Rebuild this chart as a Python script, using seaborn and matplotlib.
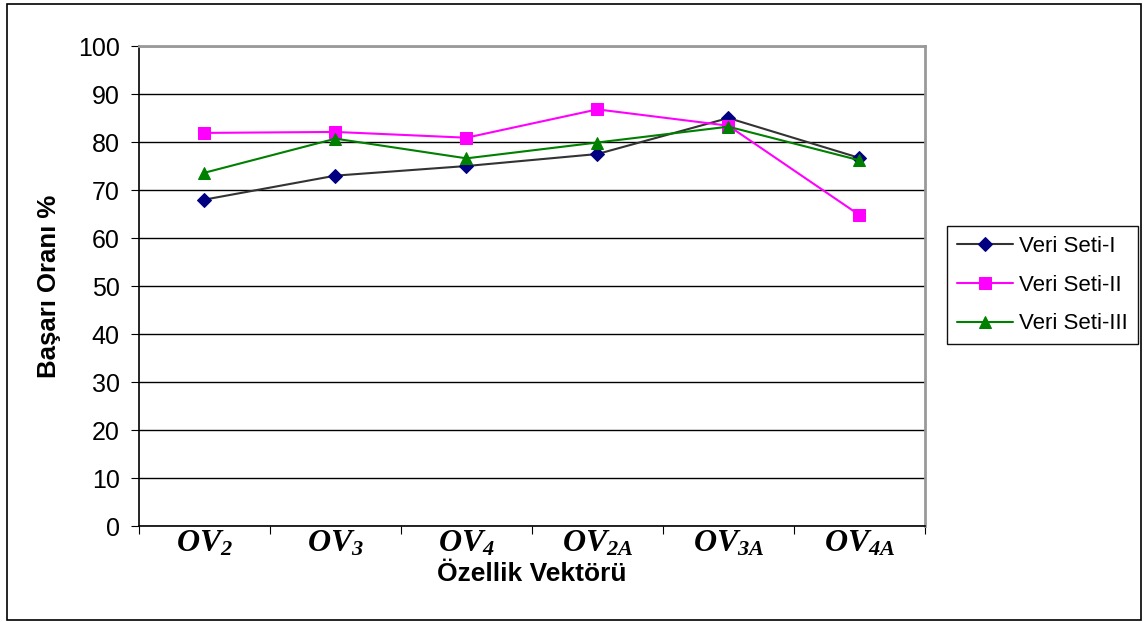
import pandas as pd
import matplotlib.pyplot as plt
from matplotlib.patches import Rectangle
import seaborn as sns

# Veriler
kategoriler = [r'$OV_2$', r'$OV_3$', r'$OV_4$', r'$OV_{2A}$', r'$OV_{3A}$', r'$OV_{4A}$']
veri_seti_1 = [68.0, 73.0, 75.0, 77.5, 85.0, 76.7]
veri_seti_2 = [81.9, 82.1, 80.9, 86.8, 83.4, 64.8]
veri_seti_3 = [73.6, 80.7, 76.6, 79.9, 83.2, 76.2]
seri_adlari = ['Veri Seti-I', 'Veri Seti-II', 'Veri Seti-III']
y_ticks = list(range(0, 101, 10))

sns.set_style('white')
plt.rcParams['font.family'] = ['Liberation Sans', 'DejaVu Sans']
plt.rcParams['text.color'] = 'black'
plt.rcParams['axes.labelcolor'] = 'black'
plt.rcParams['xtick.color'] = 'black'
plt.rcParams['ytick.color'] = 'black'
plt.rcParams['mathtext.fontset'] = 'custom'
plt.rcParams['mathtext.it'] = 'Liberation Serif:italic:bold'
plt.rcParams['mathtext.rm'] = 'Liberation Serif:italic:bold'
plt.rcParams['mathtext.bf'] = 'Liberation Serif:italic:bold'

df = pd.DataFrame({'kategori': kategoriler, seri_adlari[0]: veri_seti_1,
                   seri_adlari[1]: veri_seti_2, seri_adlari[2]: veri_seti_3})

fig = plt.figure(figsize=(11.46, 6.22), dpi=100)
ax = fig.add_axes([0.1213, 0.1543, 0.6857, 0.7717])

stiller = [
    dict(color='#333333', marker='D', markerfacecolor='#000080', markeredgecolor='#000080', markersize=7),
    dict(color='#ff00ff', marker='s', markerfacecolor='#ff00ff', markeredgecolor='#ff00ff', markersize=8),
    dict(color='#008000', marker='^', markerfacecolor='#008000', markeredgecolor='#008000', markersize=9),
]
for ad, stil in zip(seri_adlari, stiller):
    sns.lineplot(data=df, x='kategori', y=ad, ax=ax, label=ad, linewidth=1.5, sort=False, **stil)

ax.set_ylim(0, 100)
ax.set_xlim(-0.5, len(kategoriler) - 0.5)
ax.set_yticks(y_ticks)
ax.set_yticklabels([str(t) for t in y_ticks], fontsize=18)
ax.yaxis.grid(True, color='black', linewidth=1)
ax.set_axisbelow(True)

# kategori sınırlarında tik, ortada etiket
ax.set_xticks([i - 0.5 for i in range(len(kategoriler) + 1)])
ax.set_xticklabels([])
ax.set_xticks(range(len(kategoriler)), minor=True)
ax.set_xticklabels(kategoriler, minor=True, fontsize=23)
ax.tick_params(axis='x', which='major', direction='out', length=6, color='black', bottom=True)
ax.tick_params(axis='x', which='minor', length=0, pad=2)
ax.tick_params(axis='y', direction='out', length=6, color='black', left=True, pad=8)

for s in ['left', 'bottom']:
    ax.spines[s].set_color('black')
    ax.spines[s].set_linewidth(1.2)
for s in ['top', 'right']:
    ax.spines[s].set_color('#999999')
    ax.spines[s].set_linewidth(2)

ax.set_xlabel('Özellik Vektörü', fontsize=19, fontweight='bold', labelpad=2)
ax.set_ylabel('Başarı Oranı %', fontsize=18.5, fontweight='bold', labelpad=12)

ax.legend(loc='center left', bbox_to_anchor=(0.8264, 0.5418), bbox_transform=fig.transFigure,
          frameon=True, fancybox=False, edgecolor='#111111', fontsize=16,
          handlelength=2.5, handletextpad=0.3, borderpad=0.45, labelspacing=0.8,
          borderaxespad=0, framealpha=1)

# dış çerçeve
fig.patches.append(Rectangle((0.006, 0.004), 0.99, 0.99, transform=fig.transFigure,
                             fill=False, edgecolor='black', linewidth=1.2))

fig.savefig('out.png', dpi=100)
